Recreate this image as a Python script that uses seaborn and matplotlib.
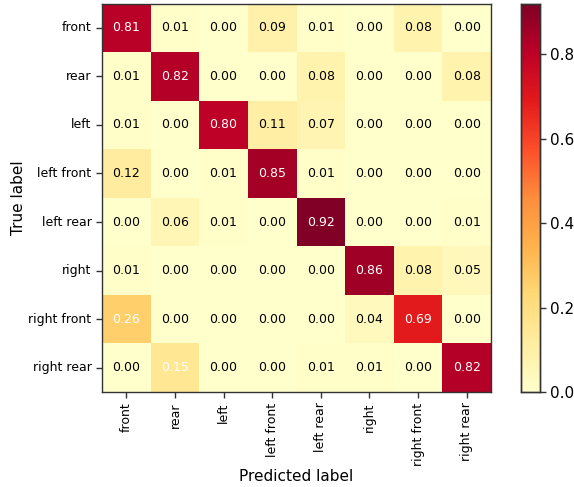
import numpy as np
import pandas as pd
import matplotlib
matplotlib.use("Agg")
import matplotlib.pyplot as plt
import seaborn as sns

classes = ["front", "rear", "left", "left front", "left rear",
           "right", "right front", "right rear"]

row_front = [0.81, 0.01, 0.00, 0.09, 0.01, 0.00, 0.08, 0.00]
row_rear = [0.01, 0.82, 0.00, 0.00, 0.08, 0.00, 0.00, 0.08]
row_left = [0.01, 0.00, 0.80, 0.11, 0.07, 0.00, 0.00, 0.00]
row_left_front = [0.12, 0.00, 0.01, 0.85, 0.01, 0.00, 0.00, 0.00]
row_left_rear = [0.00, 0.06, 0.01, 0.00, 0.92, 0.00, 0.00, 0.01]
row_right = [0.01, 0.00, 0.00, 0.00, 0.00, 0.86, 0.08, 0.05]
row_right_front = [0.26, 0.00, 0.00, 0.00, 0.00, 0.04, 0.69, 0.00]
row_right_rear = [0.00, 0.15, 0.00, 0.00, 0.01, 0.01, 0.00, 0.82]

cm = pd.DataFrame(
    [row_front, row_rear, row_left, row_left_front,
     row_left_rear, row_right, row_right_front, row_right_rear],
    index=classes, columns=classes,
)

plt.rcParams["font.family"] = ["DejaVu Sans"]

fig = plt.figure(figsize=(5.74, 4.87), dpi=100)
W, H = 574, 487
ax = fig.add_axes([102 / W, 1 - 392 / H, 389 / W, 388.5 / H])
cax = fig.add_axes([521 / W, 1 - 392 / H, 19 / W, 388.5 / H])

sns.heatmap(cm, ax=ax, cbar_ax=cax, cmap="YlOrRd", vmin=0, vmax=0.92,
            annot=False, square=False, linewidths=0)

# text colour: white on darker cells
thresh = 0.135
vals = cm.values
for i in range(vals.shape[0]):
    for j in range(vals.shape[1]):
        ax.text(j + 0.5, i + 0.5, f"{vals[i, j]:.2f}",
                ha="center", va="center", fontsize=9,
                color="white" if vals[i, j] > thresh else "black")

for sp in ax.spines.values():
    sp.set_visible(True)
    sp.set_color("#333333")
    sp.set_linewidth(1.0)

ax.set_xticks(np.arange(len(classes)) + 0.5)
ax.set_yticks(np.arange(len(classes)) + 0.5)
ax.set_xticklabels(classes, rotation=90, fontsize=9)
ax.set_yticklabels(classes, rotation=0, fontsize=9)
ax.tick_params(axis="both", which="major", length=4, width=1,
               color="#333333", left=True, bottom=True)
ax.set_xlabel("Predicted label", fontsize=11)
ax.set_ylabel("True label", fontsize=11)
ax.xaxis.set_label_coords(0.5, -(469 - 392) / 388.5)
ax.yaxis.set_label_coords((26 - 102) / 389, 0.5)

cax.set_yticks([0.0, 0.2, 0.4, 0.6, 0.8])
cax.tick_params(labelsize=11, length=4, width=1, color="#333333", right=True)
for sp in cax.spines.values():
    sp.set_visible(True)
    sp.set_color("#333333")
    sp.set_linewidth(1.0)

fig.savefig("out.png", dpi=100)
